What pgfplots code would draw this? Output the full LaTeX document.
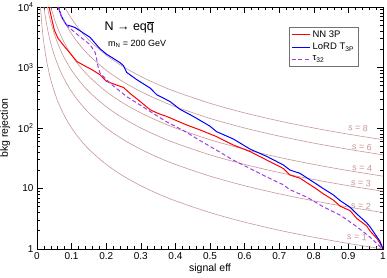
\documentclass[border=0pt]{standalone}
\usepackage{pgfplots}
\pgfplotsset{compat=1.18}
\usepackage{fontspec}
\setmainfont{Liberation Sans}
\definecolor{scol}{RGB}{200,150,150}
\definecolor{tcol}{RGB}{160,60,230}
\begin{document}
\begin{tikzpicture}
\begin{axis}[
  scale only axis, width=346pt, height=242pt,
  ymode=log, xmin=0, xmax=1, ymin=1, ymax=10000,
  axis line style={line width=0.8pt},
  xtick={0,0.1,0.2,0.3,0.4,0.5,0.6,0.7,0.8,0.9,1},
  xticklabels={0,0.1,0.2,0.3,0.4,0.5,0.6,0.7,0.8,0.9,1},
  minor x tick num=4,
  ytick={1,10,100,1000,10000},
  yticklabels={1,10,10\textsuperscript{2},10\textsuperscript{3},10\textsuperscript{4}},
  tick align=inside, xtick pos=both, ytick pos=both,
  major tick length=6pt, minor tick length=3pt,
  tick style={black, line width=0.6pt},
  tick label style={font=\fontsize{10}{12}\selectfont},
  xlabel={signal eff}, ylabel={bkg rejection},
  label style={font=\fontsize{10.5}{12}\selectfont},
  x label style={at={(axis description cs:0.5,0)}, anchor=north, yshift=-11pt},
  y label style={at={(axis description cs:-0.068,0.5)}, anchor=south},
  legend style={at={(axis description cs:0.728,0.918)}, anchor=north west,
    draw=black!55, line width=0.8pt, font=\fontsize{9.5}{11}\selectfont,
    inner xsep=2pt, inner ysep=1.5pt, row sep=0.5pt, legend cell align=left},
  legend image code/.code={\draw[#1, line width=1.3pt] (0pt,0pt) -- (18pt,0pt);},
]
% s-curves
\addplot[scol, line width=0.6pt, smooth, forget plot] coordinates {(0.01,10000)(0.015,4444.4)(0.02,2500)(0.025,1600)(0.03,1111.1)(0.035,816.33)(0.04,625)(0.05,400)(0.06,277.78)(0.07,204.08)(0.08,156.25)(0.09,123.46)(0.1,100)(0.12,69.444)(0.15,44.444)(0.2,25)(0.25,16)(0.3,11.111)(0.35,8.1633)(0.4,6.25)(0.5,4)(0.6,2.7778)(0.7,2.0408)(0.8,1.5625)(0.9,1.2346)(1,1)};
\addplot[scol, line width=0.6pt, smooth, forget plot] coordinates {(0.02,10000)(0.025,6400)(0.03,4444.4)(0.035,3265.3)(0.04,2500)(0.05,1600)(0.06,1111.1)(0.07,816.33)(0.08,625)(0.09,493.83)(0.1,400)(0.12,277.78)(0.15,177.78)(0.2,100)(0.25,64)(0.3,44.444)(0.35,32.653)(0.4,25)(0.5,16)(0.6,11.111)(0.7,8.1633)(0.8,6.25)(0.9,4.9383)(1,4)};
\addplot[scol, line width=0.6pt, smooth, forget plot] coordinates {(0.03,10000)(0.035,7346.9)(0.04,5625)(0.05,3600)(0.06,2500)(0.07,1836.7)(0.08,1406.3)(0.09,1111.1)(0.1,900)(0.12,625)(0.15,400)(0.2,225)(0.25,144)(0.3,100)(0.35,73.469)(0.4,56.25)(0.5,36)(0.6,25)(0.7,18.367)(0.8,14.063)(0.9,11.111)(1,9)};
\addplot[scol, line width=0.6pt, smooth, forget plot] coordinates {(0.04,10000)(0.05,6400)(0.06,4444.4)(0.07,3265.3)(0.08,2500)(0.09,1975.3)(0.1,1600)(0.12,1111.1)(0.15,711.11)(0.2,400)(0.25,256)(0.3,177.78)(0.35,130.61)(0.4,100)(0.5,64)(0.6,44.444)(0.7,32.653)(0.8,25)(0.9,19.753)(1,16)};
\addplot[scol, line width=0.6pt, smooth, forget plot] coordinates {(0.06,10000)(0.07,7346.9)(0.08,5625)(0.09,4444.4)(0.1,3600)(0.12,2500)(0.15,1600)(0.2,900)(0.25,576)(0.3,400)(0.35,293.88)(0.4,225)(0.5,144)(0.6,100)(0.7,73.469)(0.8,56.25)(0.9,44.444)(1,36)};
\addplot[scol, line width=0.6pt, smooth, forget plot] coordinates {(0.08,10000)(0.09,7901.2)(0.1,6400)(0.12,4444.4)(0.15,2844.4)(0.2,1600)(0.25,1024)(0.3,711.11)(0.35,522.45)(0.4,400)(0.5,256)(0.6,177.78)(0.7,130.61)(0.8,100)(0.9,79.012)(1,64)};
% NN 3P
\addplot[red, line width=1pt] coordinates {(0.035,10000)(0.040,7413)(0.050,4169)(0.060,3090)(0.076,2344)(0.095,1738)(0.115,1259)(0.140,1047)(0.160,912)(0.182,759)(0.201,589)(0.230,513)(0.250,468)(0.269,372)(0.298,275)(0.327,200)(0.350,174)(0.375,155)(0.433,112)(0.471,93)(0.519,72)(0.567,52.5)(0.616,40.7)(0.664,29.5)(0.712,21.4)(0.731,16.7)(0.760,14.8)(0.808,9.8)(0.827,8.2)(0.857,6.4)(0.876,5.1)(0.905,4.3)(0.924,3.2)(0.953,2.4)(0.962,2.0)(0.982,1.5)(0.991,1.25)(1.0,1)};
\addlegendentry{NN 3P}
% LoRD T3P
\addplot[blue, line width=1pt] coordinates {(0.062,10000)(0.070,7079)(0.081,5495)(0.086,5012)(0.095,4898)(0.110,4571)(0.134,3715)(0.153,3162)(0.182,2042)(0.201,1660)(0.240,1202)(0.250,1072)(0.259,832)(0.288,631)(0.327,457)(0.346,355)(0.384,275)(0.413,204)(0.452,155)(0.500,107)(0.519,87)(0.567,66)(0.616,44.7)(0.664,33.9)(0.712,24.5)(0.731,20.2)(0.760,17.8)(0.808,11.8)(0.827,10.0)(0.857,7.8)(0.876,6.3)(0.905,4.9)(0.924,3.8)(0.953,2.7)(0.962,2.35)(0.982,1.6)(0.991,1.35)(1.0,1)};
\addlegendentry{LoRD T\textsubscript{3P}}
% tau32
\addplot[tcol, line width=1pt, dash pattern=on 4pt off 2.5pt] coordinates {(0.062,10000)(0.070,7079)(0.081,5495)(0.086,5012)(0.095,4467)(0.124,3236)(0.153,2399)(0.168,1778)(0.172,1413)(0.177,1000)(0.182,813)(0.187,759)(0.211,550)(0.259,331)(0.298,240)(0.336,174)(0.375,126)(0.423,91)(0.471,62)(0.519,43)(0.567,29.5)(0.616,21.4)(0.664,15.5)(0.712,11.5)(0.731,9.55)(0.780,7.2)(0.827,5.0)(0.876,3.63)(0.924,2.34)(0.962,1.58)(0.991,1.10)(1.0,1)};
\addlegendentry{τ\textsubscript{32}}
% labels
\node[anchor=west, font=\fontsize{12.5}{14}\selectfont] at (axis description cs:0.185,0.917) {N → eq$\overline{\mbox{q}}$};
\node[anchor=west, font=\fontsize{9}{11}\selectfont] at (axis description cs:0.195,0.847) {m\textsubscript{N} = 200 GeV};
\begin{scope}[every node/.style={text=scol, font=\fontsize{9}{11}\selectfont, rotate=-4}]
\node at (axis cs:0.928,100) {s = 8};
\node at (axis cs:0.939,48.5) {s = 6};
\node at (axis cs:0.94,21.8) {s = 4};
\node at (axis cs:0.936,12.3) {s = 3};
\node at (axis cs:0.936,5.14) {s = 2};
\node at (axis cs:0.925,1.58) {s = 1};
\end{scope}
\end{axis}
\pgfresetboundingbox
\useasboundingbox ([shift={(-37pt,-29pt)}]current axis.south west) rectangle ([shift={(4pt,7pt)}]current axis.north east);
\end{tikzpicture}
\end{document}
